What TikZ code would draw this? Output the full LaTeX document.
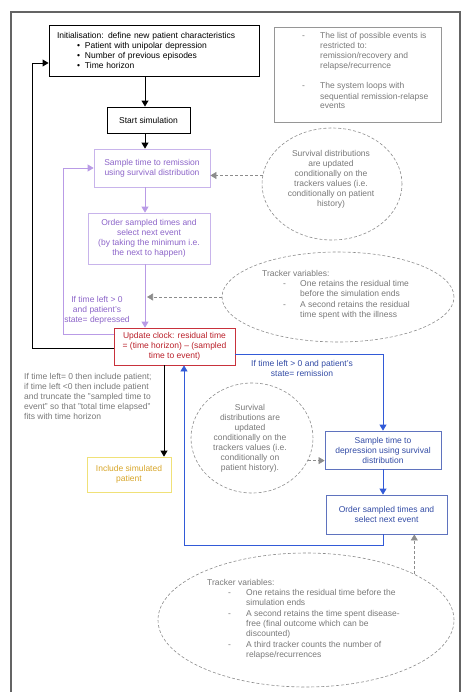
\documentclass[tikz,border=0pt]{standalone}
\usepackage{fontspec}
\setmainfont{Liberation Sans}
\usetikzlibrary{arrows.meta,shapes.geometric}
\definecolor{purptext}{RGB}{140,100,200}
\definecolor{purpline}{RGB}{200,180,235}
\definecolor{purparrow}{RGB}{185,155,230}
\definecolor{redline}{RGB}{200,50,60}
\definecolor{redtext}{RGB}{185,30,40}
\definecolor{bluetext}{RGB}{50,75,165}
\definecolor{blueline}{RGB}{95,115,190}
\definecolor{bluearrow}{RGB}{50,90,215}
\definecolor{yelline}{RGB}{240,225,120}
\definecolor{yeltext}{RGB}{215,165,40}
\definecolor{graytext}{RGB}{120,120,120}
\definecolor{grayline}{RGB}{140,140,140}
\definecolor{framecol}{RGB}{100,100,100}
\definecolor{notecol}{RGB}{150,150,150}
\begin{document}
\begin{tikzpicture}[x=1pt,y=-1pt,
  every node/.style={font=\fontsize{8.5}{10}\selectfont, inner sep=0pt},
  box/.style={draw, rectangle, align=center},
  blackbox/.style={box, draw=black, line width=0.9pt},
  purpbox/.style={box, draw=purpline, text=purptext, line width=0.8pt},
  redbox/.style={box, draw=redline, text=redtext, line width=0.8pt},
  bluebox/.style={box, draw=blueline, text=bluetext, line width=0.8pt},
  yelbox/.style={box, draw=yelline, text=yeltext, line width=0.8pt},
  gdash/.style={draw=grayline, dash pattern=on 3pt off 2pt, line width=0.6pt},
  graylab/.style={text=graytext, align=left},
  blkarrow/.style={draw=black, line width=0.9pt, -{Triangle[width=7pt,length=6pt]}},
  purparr/.style={draw=purparrow, line width=0.8pt, -{Triangle[width=7pt,length=6pt]}},
  bluearr/.style={draw=bluearrow, line width=0.8pt, -{Triangle[width=7pt,length=6pt]}},
  gdarrow/.style={draw=grayline, dash pattern=on 3pt off 2pt, line width=0.6pt, -{Triangle[width=7pt,length=6pt,fill=grayline]}}
]
\useasboundingbox (0,0) rectangle (474,693);

% outer frame (open at the bottom, as in the reference)
\draw[framecol, line width=1.3pt] (11,692) -- (11,12) -- (460,12) -- (460,692);

% boxes
\node[blackbox, minimum height=51pt, inner xsep=8pt, text width=194pt, align=left] (init) at (154,50.5)
  {Initialisation: define new patient characteristics\\
   \hspace*{20pt}\makebox[8pt][l]{\textbullet}Patient with unipolar depression\\
   \hspace*{20pt}\makebox[8pt][l]{\textbullet}Number of previous episodes\\
   \hspace*{20pt}\makebox[8pt][l]{\textbullet}Time horizon};
\node[blackbox, minimum width=83pt, minimum height=26pt] (start) at (148.5,120) {Start simulation};
\node[purpbox, minimum width=116pt, minimum height=38pt] (samp1) at (152,168)
  {Sample time to remission\\using survival distribution};
\node[purpbox, minimum width=122pt, minimum height=51pt] (ord1) at (149,238.5)
  {Order sampled times and\\select next event\\(by taking the minimum i.e.\\the next to happen)};
\node[redbox, minimum width=121pt, minimum height=37pt] (upd) at (174.5,346.5)
  {Update clock: residual time\\= (time horizon) -- (sampled\\time to event)};
\node[yelbox, minimum width=84pt, minimum height=35pt] (incl) at (129,474.5)
  {Include simulated\\patient};
\node[bluebox, minimum width=116pt, minimum height=38pt] (samp2) at (383,450)
  {Sample time to\\depression using survival\\distribution};
\node[bluebox, minimum width=121pt, minimum height=39pt] (ord2) at (386.5,514.5)
  {Order sampled times and\\select next event};

% note box
\node[draw=notecol, line width=0.8pt, minimum width=167pt, minimum height=95pt] (note) at (357.5,74.5) {};
\node[graylab, anchor=west] (notetxt) at (302,72)
  {\begin{tabular}{@{}p{18pt}@{}l@{}}
   - & The list of possible events is\\
     & restricted to:\\
     & remission/recovery and\\
     & relapse/recurrence\\[10pt]
   - & The system loops with\\
     & sequential remission-relapse\\
     & events
   \end{tabular}};

% ellipses
\node[ellipse, gdash, minimum width=140pt, minimum height=112pt] (ell1) at (332,184) {};
\node[text=graytext, align=center] (ell1txt) at (331,179)
  {Survival distributions\\are updated\\conditionally on the\\trackers values (i.e.\\conditionally on patient\\history)};
\node[ellipse, gdash, minimum width=232pt, minimum height=90pt] (ell2) at (338,297) {};
\node[graylab, anchor=west] (ell2txt) at (262,295)
  {\begin{tabular}{@{}p{21pt}@{}p{17pt}@{}l@{}}
   \multicolumn{3}{@{}l@{}}{Tracker variables:}\\
   & - & One retains the residual time\\
   & & before the simulation ends\\[1pt]
   & - & A second retains the residual\\
   & & time spent with the illness
   \end{tabular}};
\node[ellipse, gdash, minimum width=122pt, minimum height=110pt] (ell3) at (252,438) {};
\node[text=graytext, align=center] (ell3txt) at (250,438.5)
  {Survival\\distributions are\\updated\\conditionally on the\\trackers values (i.e.\\conditionally on\\patient history).};
\node[ellipse, gdash, minimum width=296pt, minimum height=134pt] (ell4) at (306,620) {};
\node[graylab, anchor=west] (ell4txt) at (207,619.5)
  {\begin{tabular}{@{}p{21pt}@{}p{18pt}@{}l@{}}
   \multicolumn{3}{@{}l@{}}{Tracker variables:}\\
   & - & One retains the residual time before the\\
   & & simulation ends\\[1pt]
   & - & A second retains the time spent disease-\\
   & & free (final outcome which can be\\
   & & discounted)\\[1pt]
   & - & A third tracker counts the number of\\
   & & relapse/recurrences
   \end{tabular}};

% labels
\node[graylab, anchor=west] (lefttxt) at (24,396.5)
  {If time left= 0 then include patient;\\if time left <0 then include patient\\and truncate the "sampled time to\\event" so that "total time elapsed"\\fits with time horizon};
\node[text=purptext, align=center] (plab) at (97,310) {If time left > 0\\and patient's\\state= depressed};
\node[text=bluetext, align=center] (blab) at (302,368) {If time left > 0 and patient's\\state= remission};

% helper coordinates
\coordinate (xa) at (145,0);
\coordinate (xb) at (164,0);
\coordinate (xc) at (184,0);
\coordinate (px) at (63,0);
\coordinate (bx) at (32,0);
\coordinate (blx) at (383,0);
\coordinate (py) at (0,334);
\coordinate (by) at (0,348);
\coordinate (iy) at (0,63);
\coordinate (bly) at (0,354);
\coordinate (bby) at (0,545);

% main flow
\draw[blkarrow] (init.south -| xa) -- (start.north -| xa);
\draw[blkarrow] (start.south -| xa) -- (samp1.north -| xa);
\draw[purparr] (samp1.south -| xa) -- (ord1.north -| xa);
\draw[purparr] (ord1.south -| xa) -- (upd.north -| xa);
\draw[purparr] (upd.west |- py) -| (px |- samp1.west) -- (samp1.west);
\draw[blkarrow] (upd.west |- by) -| (bx |- iy) -- (init.west |- iy);
\draw[blkarrow] (upd.south -| xb) -- (incl.north -| xb);
\draw[bluearr] (upd.east |- bly) -| (samp2.north);
\draw[bluearr] (samp2.south) -- (ord2.north -| samp2.south);
\draw[bluearr] (ord2.south -| blx) -- (blx |- bby) -| (upd.south -| xc);

% dashed influence arrows
\draw[gdarrow] (ell1.173) -- (samp1.east |- ell1.173);
\draw[gdarrow, shorten >=2pt] (ell2.west) -- (xa |- ell2.west);
\draw[gdarrow] (ell3.-22.5) -- (samp2.west |- ell3.-22.5);
\draw[gdarrow] (ell4.23) -- (ord2.south -| ell4.23);
\end{tikzpicture}
\end{document}
